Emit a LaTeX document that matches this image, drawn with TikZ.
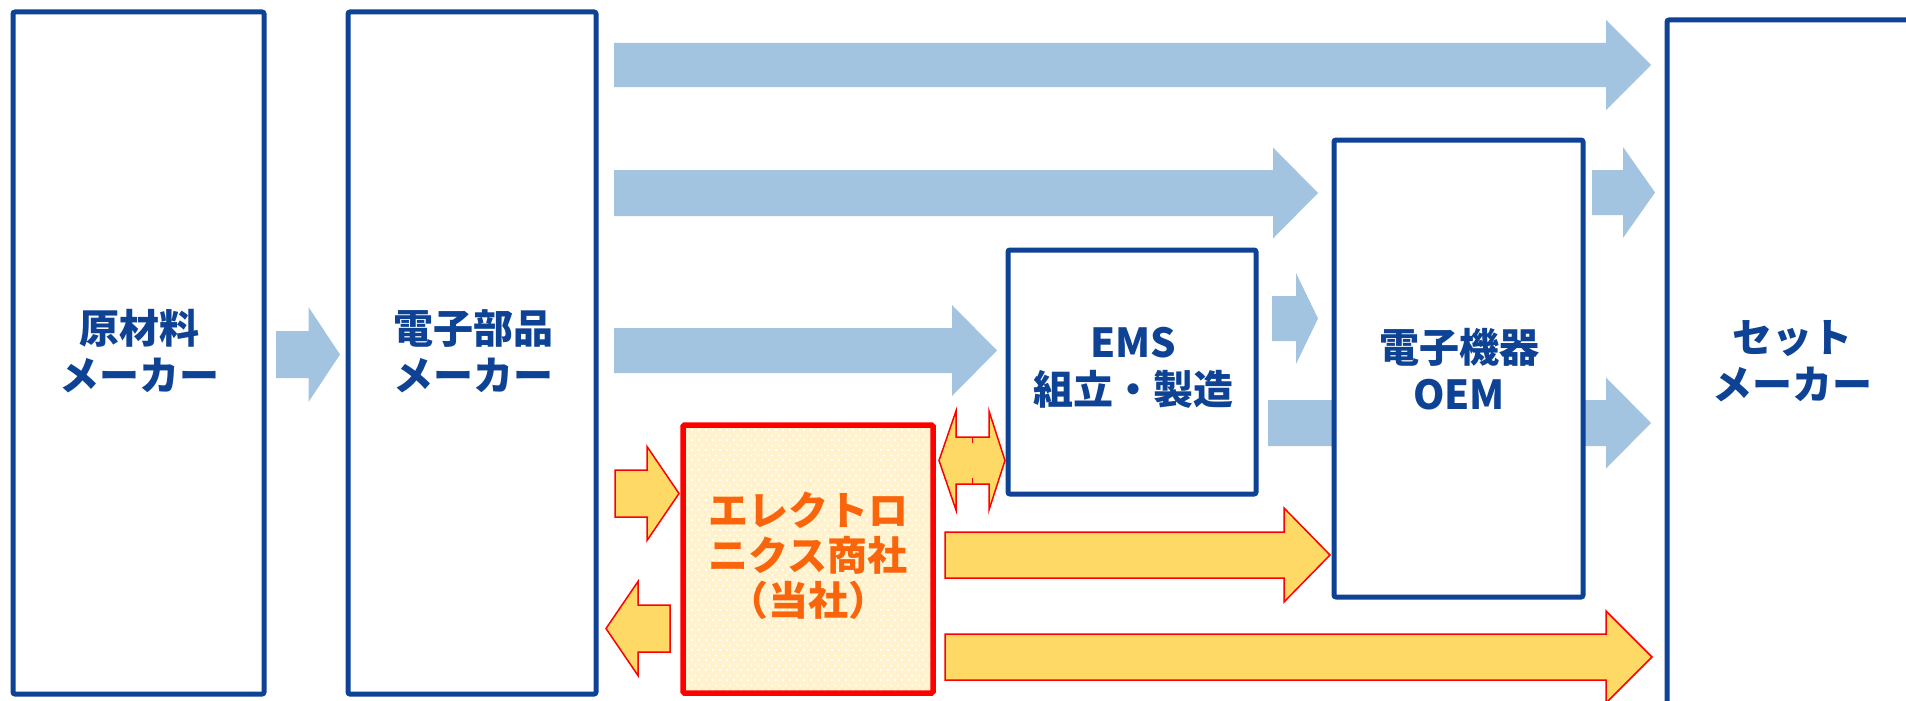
\documentclass[tikz,border=0pt]{standalone}
\usepackage{fontspec}
\newfontfamily\jp{Noto Sans CJK JP}
\usetikzlibrary{patterns.meta}
\definecolor{dblue}{RGB}{13,66,148}
\definecolor{lblue}{RGB}{163,196,225}
\definecolor{ayel}{RGB}{255,217,102}
\definecolor{pyel}{RGB}{255,242,204}
\definecolor{torange}{RGB}{250,100,10}
\tikzdeclarepattern{
  name=stagdots,
  type=uncolored,
  bounding box={(0pt,0pt) and (7.2pt,10pt)},
  tile size={(7.2pt,10pt)},
  code={
    \fill (0pt,0pt) rectangle (2pt,2pt);
    \fill (3.6pt,5pt) rectangle (5.6pt,7pt);
  }
}
% [style]{shaft start x}{head base x}{tip x}{centre y}{shaft half height}{head half height}
\newcommand{\blockarrow}[7][]{%
  \path[#1] (#2,{#5-#6}) -- (#3,{#5-#6}) -- (#3,{#5-#7}) -- (#4,#5)
    -- (#3,{#5+#7}) -- (#3,{#5+#6}) -- (#2,{#5+#6}) -- cycle;}
\tikzset{
  bbox/.style={draw=dblue, line width=5pt, fill=white, rounded corners=2pt, inner sep=0pt, outer sep=0pt},
  trbox/.style={fill=pyel, inner sep=0pt, outer sep=0pt},
  larrow/.style={fill=lblue},
  yarrow/.style={fill=ayel, draw=red, line width=1.5pt, line join=miter},
  lbl/.style={text=dblue, font=\jp\bfseries\fontsize{40}{47}\selectfont, align=center, inner sep=0pt},
  olbl/.style={text=torange, font=\jp\bfseries\fontsize{40}{45}\selectfont, align=center, inner sep=0pt}
}
\begin{document}
\begin{tikzpicture}[x=1pt, y=-1pt]
\useasboundingbox (0,0) rectangle (1906,701);
\clip (0,0) rectangle (1906,701);
\fill[white] (0,0) rectangle (1906,701);

% light blue arrows
\blockarrow[larrow]{276}{308.5}{340}{354.5}{23.5}{47.5}
\blockarrow[larrow]{614}{1606}{1651}{65}{22}{45}
\blockarrow[larrow]{614}{1273}{1318}{193}{23}{45.5}
\blockarrow[larrow]{614}{952}{997}{350.5}{22.5}{45.5}
\blockarrow[larrow]{1272}{1296}{1318}{318.5}{22.5}{45.5}
\blockarrow[larrow]{1592}{1623}{1655}{192.5}{22.5}{45.5}
\blockarrow[larrow]{1268}{1606}{1651}{423}{23}{45.5}

% yellow arrows
\blockarrow[yarrow]{615}{647}{679}{493.5}{23.5}{47}
\blockarrow[yarrow]{670}{638}{606}{628.5}{23.5}{47}
\blockarrow[yarrow]{945}{1284}{1330}{555}{23}{47}
\blockarrow[yarrow]{945}{1606}{1652}{657}{23}{46}
\path[yarrow] (939,460.5) -- (956,411) -- (956,437) -- (989,437) -- (989,411)
  -- (1005,460.5) -- (989,510) -- (989,484) -- (956,484) -- (956,510) -- cycle;
\draw[red, line width=1.5pt] (972.5,437) -- (972.5,443) (972.5,484) -- (972.5,478);

% boxes
\node[bbox, minimum width=251pt, minimum height=682pt] (b1) at (138.5,353) {};
\node[bbox, minimum width=248pt, minimum height=682pt] (b2) at (472,353) {};
\node[bbox, minimum width=248pt, minimum height=244pt] (ems) at (1132,372) {};
\node[bbox, minimum width=249pt, minimum height=457pt] (oem) at (1458.5,368.5) {};
\node[bbox, minimum width=251pt, minimum height=720pt] (set) at (1792.5,380) {};

% trading company box
\node[trbox, minimum width=250pt, minimum height=268pt] (tr) at (808,559) {};
\fill[pattern={stagdots}, pattern color=white] (686,428) rectangle (930,690);
\draw[red, line width=5.5pt, rounded corners=1.5pt] (tr.north west) rectangle (tr.south east);

% labels
\node[lbl] (t1) at (139,351) {原材料\\メーカー};
\node[lbl] (t2) at (473,351) {電子部品\\メーカー};
\node[lbl] (t3) at (1133,368) {EMS\\組立・製造};
\node[lbl] (t4) at (1459,369) {電子機器\\OEM};
\node[lbl] (t5) at (1792,361) {セット\\メーカー};
\node[olbl] (t6) at (808,556) {エレクトロ\\ニクス商社\\（当社）};
\end{tikzpicture}
\end{document}
